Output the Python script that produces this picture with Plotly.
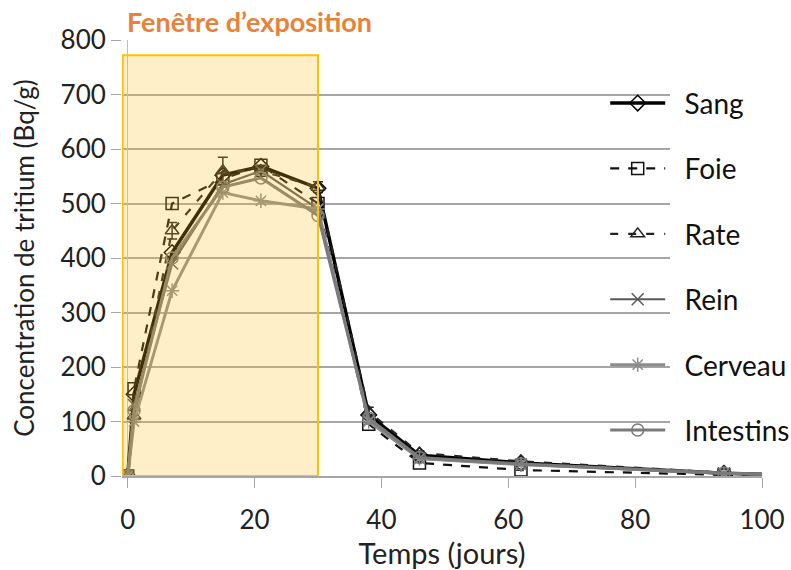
import plotly.graph_objects as go

# ---- data ----
temps = [0, 1, 7, 15, 21, 30, 38, 46, 62, 94, 100]
sang = [0, 150, 410, 552, 568, 528, 112, 38, 24, 5, 3]
foie = [0, 160, 500, 545, 570, 500, 95, 24, 11, 2, 1]
rate = [0, 110, 450, 560, 560, 530, 118, 42, 27, 6, 3]
rein = [0, 130, 390, 535, 560, 490, 102, 32, 21, 5, 3]
cerveau = [0, 100, 340, 520, 505, 490, 100, 32, 21, 5, 3]
intestins = [0, 120, 400, 530, 547, 478, 106, 34, 22, 5, 3]
rate_err = [0, 10, 15, 25, 10, 10, 8, 4, 3, 2, 0]

series = [
    ("Sang", sang, "#000000", 3.5, "solid", "diamond-open"),
    ("Foie", foie, "#111111", 2.2, "dash", "square-open"),
    ("Rate", rate, "#222222", 2.2, "8px,10px", "triangle-up-open"),
    ("Rein", rein, "#5a5a5a", 2.2, "solid", "x-thin-open"),
    ("Cerveau", cerveau, "#8c8c8c", 3, "solid", "asterisk-open"),
    ("Intestins", intestins, "#7a7a7a", 3, "solid", "circle-open"),
]

fig = go.Figure()
for i, (name, vals, col, w, dash, sym) in enumerate(series):
    kw = {}
    if name == "Rate":
        kw["error_y"] = dict(type="data", array=rate_err[:-1], visible=True,
                             color=col, thickness=1.5, width=5)
    # measured points with markers
    fig.add_trace(go.Scatter(
        x=temps[:-1], y=vals[:-1], name="\u00a0\u00a0" + name, mode="lines+markers",
        legendgroup=name,
        line=dict(color=col, width=w, dash=dash),
        marker=dict(symbol=sym, size=12, color=col,
                    line=dict(color=col, width=1.5)),
        **kw))
    # tail of the curve to day 100 (no marker)
    fig.add_trace(go.Scatter(
        x=temps[-2:], y=vals[-2:], mode="lines", legendgroup=name,
        showlegend=False, hoverinfo="skip",
        line=dict(color=col, width=w, dash=dash)))

# exposure window (semi-transparent overlay)
fig.add_shape(type="rect", xref="x", yref="y", x0=-0.8, x1=30, y0=0, y1=772,
              fillcolor="rgba(255,192,40,0.25)",
              line=dict(color="#FFC000", width=2), layer="above")
# white area behind legend text
fig.add_shape(type="rect", xref="x", yref="y", x0=85.5, x1=101, y0=40, y1=800,
              fillcolor="white", line=dict(width=0), layer="between")

fig.add_annotation(text="Fenêtre d’exposition", xref="paper", yref="paper",
                   x=0.005, y=1.0, xanchor="left", yanchor="bottom", yshift=0,
                   showarrow=False,
                   font=dict(family="Lato", size=27, color="#E8823A", weight="bold"))

font_main = "Lato"
fig.update_layout(
    width=791, height=570,
    margin=dict(l=122, r=29, t=40, b=94, autoexpand=False),
    plot_bgcolor="white", paper_bgcolor="white",
    font=dict(family=font_main, size=26, color="#222222"),
    legend=dict(x=0.755, y=0.912, xanchor="left", yanchor="top",
                bgcolor="rgba(0,0,0,0)", itemwidth=55,
                tracegroupgap=26, font=dict(size=28, color="#111111")),
    showlegend=True,
)
fig.update_xaxes(range=[-0.9, 100], tickvals=[0, 20, 40, 60, 80, 100],
                 showgrid=False, showline=True, linecolor="#a6a6a6", linewidth=1.5,
                 ticks="outside", ticklen=10, tickcolor="#a6a6a6",
                 zeroline=True, zerolinecolor="#bfbfbf", zerolinewidth=1,
                 tickfont=dict(size=26), ticklabelstandoff=10,
                 title=dict(text="Temps (jours)", font=dict(size=29), standoff=4))
fig.update_yaxes(range=[0, 800], dtick=100,
                 showgrid=True, gridcolor="#a6a6a6", gridwidth=1.5,
                 showline=False, zeroline=False,
                 ticks="outside", ticklen=10, tickcolor="#a6a6a6",
                 tickfont=dict(size=26),
                 title=dict(text="Concentration de tritium (Bq/g)", font=dict(size=26), standoff=18))

fig.write_html("out.html")
